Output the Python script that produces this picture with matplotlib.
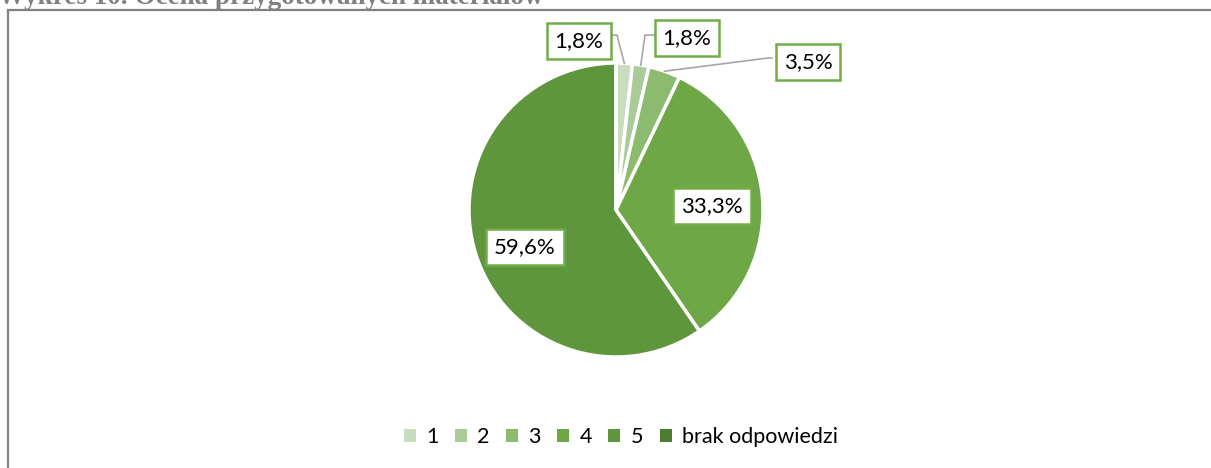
import matplotlib.pyplot as plt
from matplotlib.patches import Rectangle
import numpy as np

title = "Wykres 10. Ocena przygotowanych materiałów"
categories = ["1", "2", "3", "4", "5", "brak odpowiedzi"]
values = [1.8, 1.8, 3.5, 33.3, 59.6, 0.0]
colors = ["#c9dcc0", "#aacb98", "#8cba6f", "#6fa746", "#5f963d", "#4e7d32"]
labels = ["1,8%", "1,8%", "3,5%", "33,3%", "59,6%", ""]

W, H = 1211, 468
fig = plt.figure(figsize=(W / 100, H / 100), dpi=100)
font = ["Lato", "DejaVu Sans"]

# pie centre ~ (616, 210) px, radius ~147 px
cx, cy, r = 616, 210, 147
ax = fig.add_axes([(cx - r) / W, (H - cy - r) / H, 2 * r / W, 2 * r / H])
wedges, _ = ax.pie(values, colors=colors, startangle=90, counterclock=False,
                   radius=1, wedgeprops=dict(edgecolor="white", linewidth=2.5))
ax.set_xlim(-1, 1)
ax.set_ylim(-1, 1)
ax.set_aspect("equal")

box = dict(boxstyle="square,pad=0.35", fc="white", ec="#70ad47", lw=1.8)

# label positions in data units (box centres)
label_pos = [(-0.252, 1.150), (0.483, 1.170), (1.306, 1.007), (0.653, 0.027), (-0.619, -0.252)]
for i, (x, y) in enumerate(label_pos):
    ax.text(x, y, labels[i], ha="center", va="center", fontsize=16,
            family=font, color="black", bbox=box, clip_on=False, zorder=5)

# leader lines for small slices
cum = np.cumsum([0] + values)
mids = [(cum[i] + cum[i + 1]) / 2 / 100 * 2 * np.pi for i in range(3)]
anchors = [(np.sin(a), np.cos(a)) for a in mids]
elbows = [[(0.007, 1.19), (-0.041, 1.19)],
          [(0.197, 1.19), (0.265, 1.19)],
          [(1.034, 1.034), (1.06, 1.034)]]
for (ax0, ay0), pts in zip(anchors, elbows):
    xs = [ax0] + [p[0] for p in pts]
    ys = [ay0] + [p[1] for p in pts]
    ax.plot(xs, ys, color="#a6a6a6", lw=1.2, clip_on=False, zorder=4)

# title (cut at the top edge)
fig.text(-2 / W, 1 - 4 / H, title, ha="left", va="baseline", fontsize=19.5,
         family="Liberation Serif", weight="bold", color="#808080")

# chart frame
fig.add_artist(Rectangle((8 / W, -0.1), 1.2, (H - 9.5) / H + 0.1,
                         transform=fig.transFigure, fill=False,
                         ec="#808080", lw=1.6))

leg = fig.legend(wedges, categories, loc="center", ncol=6,
                 bbox_to_anchor=(621 / W, 1 - 437 / H), frameon=False,
                 handlelength=0.55, handleheight=0.55, handletextpad=0.5,
                 columnspacing=0.75, prop=dict(family=font, size=15.5))
for h in leg.legend_handles:
    h.set_edgecolor("none")

fig.savefig("out.png", dpi=100)
